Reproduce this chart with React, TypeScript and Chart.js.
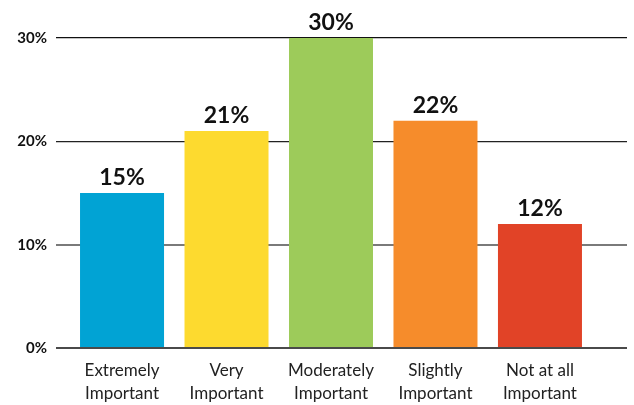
import React, { useEffect, useRef } from "react";
import { Chart, registerables } from "chart.js";

Chart.register(...registerables);

const categories: string[][] = [
  ["Extremely", "Important"],
  ["Very", "Important"],
  ["Moderately", "Important"],
  ["Slightly", "Important"],
  ["Not at all", "Important"],
];
const values: number[] = [15, 21, 30, 22, 12];
const barColors: string[] = ["#01A3D4", "#FDDA2F", "#9DCB5A", "#F68C2B", "#E14327"];
const yTicks: number[] = [0, 10, 20, 30];
const gridColors: Record<number, string> = { 0: "#4a4a4a", 10: "#7a7a7a", 20: "#222222", 30: "#111111" };

const valueLabels = {
  id: "valueLabels",
  afterDatasetsDraw(chart: any) {
    const ctx = chart.ctx;
    const meta = chart.getDatasetMeta(0);
    ctx.save();
    ctx.font = "bold 23px Lato";
    ctx.fillStyle = "#111";
    ctx.textAlign = "center";
    ctx.textBaseline = "alphabetic";
    meta.data.forEach((bar: any, i: number) => {
      ctx.fillText(values[i] + "%", bar.x, bar.y - 8);
    });
    ctx.restore();
  },
};

export default function App() {
  const ref = useRef<HTMLCanvasElement>(null);
  useEffect(() => {
    if (!ref.current) return;
    const chart = new Chart(ref.current, {
      type: "bar",
      data: {
        datasets: [
          {
            data: values.map((v, i) => ({ x: i, y: v })),
            backgroundColor: barColors,
            borderWidth: 0,
            categoryPercentage: 1,
            barPercentage: 0.804,
          },
        ],
      },
      options: {
        animation: false,
        responsive: true,
        maintainAspectRatio: false,
        layout: { padding: { top: 38, right: 7, left: 0, bottom: 0 } },
        plugins: { legend: { display: false }, tooltip: { enabled: false } },
        scales: {
          x: {
            type: "linear",
            offset: false,
            min: -0.632,
            max: 4.833,
            grid: { display: false, offset: false },
            border: { display: false },
            afterBuildTicks: (scale: any) => {
              scale.ticks = categories.map((_, i) => ({ value: i }));
            },
            afterFit: (scale: any) => {
              scale.height = 57;
            },
            ticks: {
              autoSkip: false,
              maxRotation: 0,
              padding: 3,
              color: "#222",
              font: { family: "Lato", size: 17, lineHeight: 1.35 },
              callback: (v: any) => categories[v] ?? "",
            },
          },
          y: {
            min: 0,
            max: 30,
            afterBuildTicks: (scale: any) => {
              scale.ticks = yTicks.map((v) => ({ value: v }));
            },
            afterFit: (scale: any) => {
              scale.width = 56;
            },
            border: { display: false },
            grid: {
              drawTicks: false,
              color: (c: any) => gridColors[c.tick?.value] ?? "#666",
              lineWidth: (c: any) => (c.tick?.value === 10 || c.tick?.value === 0 ? 2 : 1.3),
            },
            ticks: {
              padding: 9,
              color: "#111",
              font: { family: "Lato", size: 15, weight: "bold" },
              callback: (v: any) => v + "%",
            },
          },
        },
      },
      plugins: [valueLabels],
    });
    return () => chart.destroy();
  }, []);
  return (
    <div style={{ position: "absolute", left: 0, top: 0, width: 634, height: 405 }}>
      <canvas ref={ref} />
    </div>
  );
}
